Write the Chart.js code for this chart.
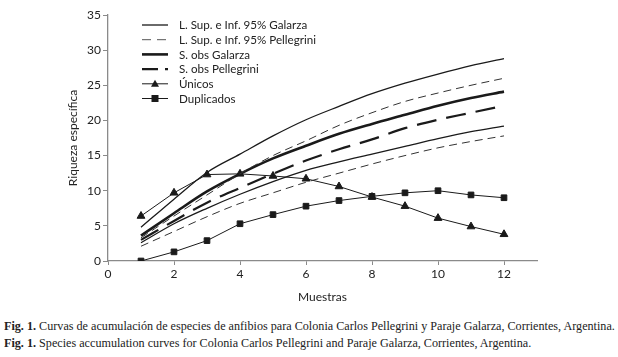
<!DOCTYPE html>
<html><head><meta charset="utf-8">
<script src="https://cdn.jsdelivr.net/npm/chart.js@4"></script>
<style>
html,body{margin:0;padding:0;background:#fff;width:618px;height:357px;overflow:hidden}
#wrap{position:absolute;left:0;top:0;width:618px;height:308px}
.cap{position:absolute;left:4px;font-family:"Liberation Serif","Times New Roman",serif;font-size:12px;color:#222;white-space:nowrap;transform-origin:0 50%;transform:scaleX(1.012)}
</style></head><body>
<div id="wrap"><canvas id="c"></canvas></div>
<div class="cap" id="cap1" style="top:319px"><b>Fig. 1.</b> Curvas de acumulación de especies de anfibios para Colonia Carlos Pellegrini y Paraje Galarza, Corrientes, Argentina.</div>
<div class="cap" id="cap2" style="top:336px"><b>Fig. 1.</b> Species accumulation curves for Colonia Carlos Pellegrini and Paraje Galarza, Corrientes, Argentina.</div>
<script>
const muestras = [1,2,3,4,5,6,7,8,9,10,11,12];
const supGalarza = [4.8,8.8,12.6,15.2,17.8,20.1,22.0,23.8,25.3,26.6,27.8,28.8];
const infGalarza = [2.6,5.3,7.5,9.5,11.3,12.9,14.1,15.2,16.3,17.4,18.4,19.2];
const supPellegrini = [3.3,6.4,9.4,12.4,15.0,17.1,19.3,21.1,22.7,23.9,25.0,26.0];
const infPellegrini = [2.1,4.2,6.3,8.2,9.7,11.2,12.5,13.8,15.0,16.1,17.0,17.8];
const sobsGalarza = [3.6,6.8,9.9,12.4,14.6,16.4,18.1,19.5,20.8,22.1,23.2,24.1];
const sobsPellegrini = [3.0,5.7,8.3,10.4,12.4,14.3,15.9,17.3,18.9,20.1,21.1,22.1];
const unicos = [6.4,9.7,12.3,12.4,12.1,11.7,10.6,9.1,7.8,6.1,4.9,3.8];
const duplicados = [0,1.3,2.9,5.3,6.6,7.8,8.6,9.2,9.7,10.0,9.4,9.0];
const xTicks = [0,2,4,6,8,10,12];
const legendLabels = ["L. Sup. e Inf. 95% Galarza","L. Sup. e Inf. 95% Pellegrini","S. obs Galarza","S. obs Pellegrini","Únicos","Duplicados"];

const pts = arr => arr.map((v,i)=>({x:muestras[i],y:v}));
const FONT = 'Lato, "Open Sans", sans-serif';
const INK = '#1a1a1a';
const curve = (data, w, dash, col) => ({data:pts(data), borderColor:col||INK, borderWidth:w, borderDash:dash||[], pointRadius:0, tension:0.4, cubicInterpolationMode:'monotone', fill:false});

const ds = [
  curve(supGalarza,1.3),
  curve(infGalarza,1.3),
  curve(supPellegrini,1,[8,5],'#333'),
  curve(infPellegrini,1,[8,5],'#333'),
  curve(sobsGalarza,2.6),
  curve(sobsPellegrini,2.2,[20,10]),
  {data:pts(unicos), borderColor:INK, borderWidth:1, pointStyle:'triangle', pointRadius:4.5, pointBackgroundColor:INK, pointBorderColor:INK, tension:0},
  {data:pts(duplicados), borderColor:INK, borderWidth:1, pointStyle:'rect', pointRadius:4, pointBackgroundColor:INK, pointBorderColor:INK, tension:0}
];

const legendPlugin = {
  id:'customLegend',
  afterDraw(chart){
    const ctx = chart.ctx;
    const x0=142, x1=168, tx=179, y0=25, dy=14.7;
    const styles = [
      {w:1.3,dash:[],col:INK},
      {w:1,dash:[9,6],col:'#555'},
      {w:2.6,dash:[],col:INK},
      {w:2.2,dash:[16,7],col:INK},
      {w:1,dash:[],col:INK,m:'tri'},
      {w:1,dash:[],col:INK,m:'sq'}
    ];
    ctx.save();
    ctx.font = '11.6px '+FONT;
    ctx.textBaseline='middle';
    styles.forEach((s,i)=>{
      const y = y0+i*dy;
      ctx.beginPath();
      ctx.setLineDash(s.dash);
      ctx.lineWidth=s.w; ctx.strokeStyle=s.col;
      ctx.moveTo(x0,y); ctx.lineTo(x1,y); ctx.stroke();
      ctx.setLineDash([]);
      const cx=(x0+x1)/2;
      ctx.fillStyle=INK;
      if(s.m==='tri'){ctx.beginPath();ctx.moveTo(cx,y-4);ctx.lineTo(cx+4,y+3);ctx.lineTo(cx-4,y+3);ctx.closePath();ctx.fill();}
      if(s.m==='sq'){ctx.fillRect(cx-3.5,y-3.5,7,7);}
      ctx.fillStyle='#222';
      ctx.fillText(legendLabels[i],tx,y+0.5);
    });
    ctx.restore();
  }
};

new Chart(document.getElementById('c'),{
  type:'line',
  data:{datasets:ds},
  options:{
    responsive:true, maintainAspectRatio:false, animation:false,
    layout:{padding:{left:58,right:81,top:15,bottom:0}},
    plugins:{legend:{display:false},tooltip:{enabled:false}},
    scales:{
      x:{type:'linear',min:0,max:13,
        afterBuildTicks:s=>{s.ticks=xTicks.map(v=>({value:v}));},
        afterFit:s=>{s.height=47;},
        grid:{drawOnChartArea:false,drawTicks:true,tickLength:4,color:'#8a8a8a'},
        border:{color:'#8a8a8a',width:1.3},
        ticks:{color:'#222',font:{family:FONT,size:12},padding:2,maxRotation:0},
        title:{display:true,text:'Muestras',color:'#222',font:{family:FONT,size:12},padding:{top:2,bottom:4}}
      },
      y:{min:0,max:35,
        afterFit:s=>{s.width=50;},
        grid:{drawOnChartArea:false,drawTicks:true,tickLength:5,color:'#8a8a8a'},
        border:{color:'#8a8a8a',width:1.3},
        ticks:{stepSize:5,color:'#222',font:{family:FONT,size:12},padding:2},
        title:{display:true,text:'Riqueza específica',color:'#222',font:{family:FONT,size:12},padding:{top:8,bottom:0}}
      }
    }
  },
  plugins:[legendPlugin]
});
</script>
</body></html>
